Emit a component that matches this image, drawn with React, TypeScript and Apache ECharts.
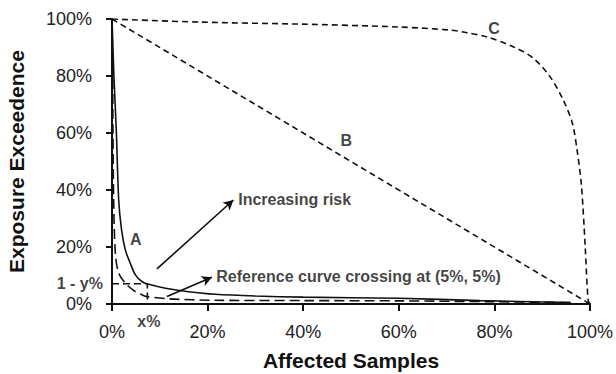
import React, { useEffect, useRef } from "react";
import * as echarts from "echarts";

// Affected samples (%) vs exposure exceedence (%)
const curveA: number[][] = [
  [0, 100], [0.4, 80], [0.9, 61], [1.4, 36.5], [2.0, 26], [2.8, 18.9], [3.8, 14.4],
  [4.9, 10.2], [6.3, 7.8], [7.7, 6.9], [11.2, 5.5], [16, 4.3], [21.6, 3.4], [30, 2.8],
  [40, 2.4], [60, 2.0], [77, 1.2], [96, 0.5],
];
const referenceCurve: number[][] = [
  [0, 100], [0.15, 80], [0.2, 61], [0.35, 36.5], [0.7, 17.8], [1.4, 10.8], [2.8, 7.3],
  [4.9, 4.3], [6.3, 3.2], [7.3, 2.6], [12, 1.8], [21.6, 1.3], [40, 1.2], [60, 1.1],
  [80, 0.8], [96, 0.5],
];
const curveB: number[][] = [[0, 100], [100, 0]];
const curveC: number[][] = [
  [0, 100], [18.5, 98.9], [39.4, 98.2], [60, 97.2], [70.8, 96.1], [74.3, 95.2], [78.5, 93.7],
  [84, 90.2], [88.1, 86.3], [91.7, 79.6], [94.4, 71.6], [96.3, 63.5], [97.3, 54],
  [98.2, 41.8], [99, 20], [99.6, 1.4], [100, 0],
];
const crossingGuide: number[][] = [[0, 7.1], [7.4, 7.1], [7.4, 0]];

const arrowIncreasing: number[][] = [[9.4, 12.3], [25.4, 36.5]];
const arrowReference: number[][] = [[11.5, 2.6], [20.9, 9.4]];

const centeredLabels = ["A", "B", "C", "x%"];
const centeredLabelPos: number[][] = [[5, 22.8], [49, 57.5], [79.9, 96.6], [7.7, -6.3]];
const leftLabels = ["Increasing risk", "Reference curve crossing at (5%, 5%)"];
const leftLabelPos: number[][] = [[26.4, 36.5], [21.8, 9.5]];
const yMarkLabel = "1 - y%";
const yMarkPos: number[] = [0, 7.1];

const xTicks = [0, 20, 40, 60, 80, 100];
const yTicks = [0, 20, 40, 60, 80, 100];

const FONT = "'Liberation Sans', Arial, Helvetica, sans-serif";
const INK = "#111";

export default function App() {
  const ref = useRef<HTMLDivElement>(null);
  useEffect(() => {
    if (!ref.current) return;
    const chart = echarts.init(ref.current, undefined, { renderer: "svg" });
    const boldLabel = { color: INK, fontSize: 16, fontWeight: "bold" as const, fontFamily: FONT };
    chart.setOption({
      animation: false,
      textStyle: { fontFamily: FONT },
      grid: { left: 112, right: 26, top: 19, bottom: 70, outerBoundsMode: "none", containLabel: false },
      xAxis: {
        type: "value",
        min: xTicks[0],
        max: xTicks[xTicks.length - 1],
        interval: 20,
        name: "Affected Samples",
        nameLocation: "middle",
        nameGap: 46,
        nameTextStyle: { fontSize: 21, lineHeight: 21, fontWeight: "bold", color: INK, fontFamily: FONT },
        axisLine: { lineStyle: { color: INK, width: 2 } },
        axisTick: { show: true, inside: false, length: 7, lineStyle: { color: INK, width: 2 } },
        axisLabel: { formatter: "{value}%", fontSize: 18, color: "#222", margin: 19, fontFamily: FONT },
        splitLine: { show: false },
      },
      yAxis: {
        type: "value",
        min: yTicks[0],
        max: yTicks[yTicks.length - 1],
        interval: 20,
        name: "Exposure Exceedence",
        nameLocation: "middle",
        nameGap: 85,
        nameTextStyle: { fontSize: 21, fontWeight: "bold", color: INK, fontFamily: FONT },
        axisLine: { show: true, lineStyle: { color: INK, width: 2 } },
        axisTick: { show: true, inside: false, length: 6, lineStyle: { color: INK, width: 2 } },
        axisLabel: { formatter: "{value}%", fontSize: 18, color: "#222", margin: 20, fontFamily: FONT },
        splitLine: { show: false },
      },
      series: [
        {
          type: "line",
          data: curveC,
          showSymbol: false,
          smooth: 0.3,
          lineStyle: { color: INK, width: 1.6, type: [6, 4] },
        },
        {
          type: "line",
          data: curveB,
          showSymbol: false,
          lineStyle: { color: INK, width: 1.6, type: [6, 4] },
        },
        {
          type: "line",
          data: referenceCurve,
          showSymbol: false,
          smooth: 0.3,
          lineStyle: { color: INK, width: 1.6, type: [10, 5] },
        },
        {
          type: "line",
          data: curveA,
          showSymbol: false,
          smooth: 0.3,
          lineStyle: { color: INK, width: 1.6, type: "solid" },
        },
        {
          type: "line",
          data: crossingGuide,
          showSymbol: false,
          lineStyle: { color: INK, width: 1.6, type: [7, 4] },
        },
        {
          type: "scatter",
          symbolSize: 0,
          clip: false,
          silent: true,
          data: centeredLabels.map((t, i) => ({ name: t, value: centeredLabelPos[i] })),
          label: { show: true, position: "inside", formatter: "{b}", ...boldLabel },
          markLine: {
            silent: true,
            symbol: ["none", "arrow"],
            symbolSize: [8, 10],
            label: { show: false },
            lineStyle: { color: INK, width: 1.6, type: "solid" },
            data: [
              [{ coord: arrowIncreasing[0] }, { coord: arrowIncreasing[1] }],
              [{ coord: arrowReference[0] }, { coord: arrowReference[1] }],
            ],
          },
        },
        {
          type: "scatter",
          symbolSize: 0,
          clip: false,
          silent: true,
          data: leftLabels.map((t, i) => ({ name: t, value: leftLabelPos[i] })),
          label: { show: true, position: "right", distance: 0, formatter: "{b}", ...boldLabel },
        },
        {
          type: "scatter",
          symbolSize: 0,
          clip: false,
          silent: true,
          data: [{ name: yMarkLabel, value: yMarkPos }],
          label: { show: true, position: "left", distance: 9, formatter: "{b}", ...boldLabel },
        },
      ],
    });
    return () => chart.dispose();
  }, []);
  return (
    <div
      ref={ref}
      style={{ position: "fixed", left: 0, top: 0, width: 616, height: 374, background: "#fff" }}
    />
  );
}
